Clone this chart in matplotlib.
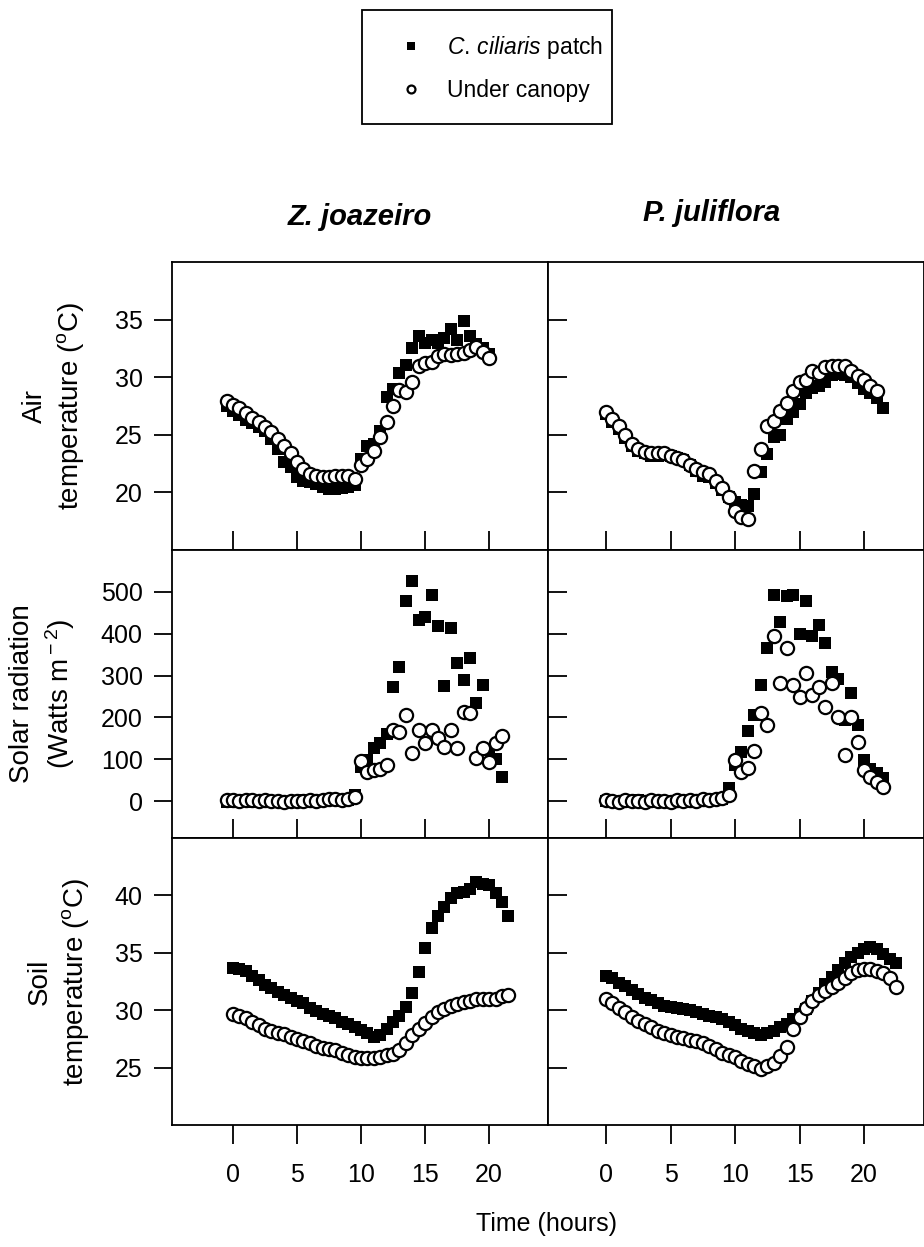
import numpy as np
import matplotlib
matplotlib.use('Agg')
import matplotlib.pyplot as plt
from matplotlib.patches import Rectangle

plt.rcParams['font.family'] = ['Liberation Sans', 'DejaVu Sans']
plt.rcParams['mathtext.fontset'] = 'custom'
plt.rcParams['mathtext.rm'] = 'Liberation Sans'
plt.rcParams['mathtext.it'] = 'Liberation Sans:italic'

# Sampling times (hours) for the two sites
hours_z = [-0.5, 0, 0.5, 1, 1.5, 2, 2.5, 3, 3.5, 4, 4.5, 5, 5.5, 6, 6.5, 7, 7.5, 8, 8.5, 9, 9.5,
           10, 10.5, 11, 11.5, 12, 12.5, 13, 13.5, 14, 14.5, 15, 15.5, 16, 16.5, 17, 17.5, 18,
           18.5, 19, 19.5, 20, 20.5, 21, 21.5]
hours_p = [0, 0.5, 1, 1.5, 2, 2.5, 3, 3.5, 4, 4.5, 5, 5.5, 6, 6.5, 7, 7.5, 8, 8.5, 9, 9.5, 10,
           10.5, 11, 11.5, 12, 12.5, 13, 13.5, 14, 14.5, 15, 15.5, 16, 16.5, 17, 17.5, 18, 18.5,
           19, 19.5, 20, 20.5, 21, 21.5, 22, 22.5]

# Z. joazeiro
air_z_patch = [27.5, 27.1, 26.7, 26.3, 26.0, 25.7, 25.3, 24.6, 23.8, 22.6, 22.2, 21.3, 21.0, 20.9,
               20.7, 20.5, 20.3, 20.3, 20.4, 20.5, 20.6, 22.9, 24.0, 24.2, 25.3, 28.3, 29.0, 30.4,
               31.1, 32.5, 33.6, 33.0, 33.2, 33.0, 33.4, 34.2, 33.2, 34.9, 33.6, 32.9, 32.5, 32.0,
               None, None, None]
air_z_canopy = [27.9, 27.6, 27.3, 26.9, 26.5, 26.1, 25.7, 25.2, 24.6, 24.0, 23.4, 22.6, 22.0, 21.6,
                21.4, 21.3, 21.3, 21.4, 21.4, 21.4, 21.2, 22.4, 22.9, 23.6, 24.8, 26.1, 27.5, 28.9,
                28.7, 29.6, 31.0, 31.2, 31.3, 31.8, 32.0, 31.9, 32.0, 32.1, 32.4, 32.6, 32.2, 31.7,
                None, None, None]
solar_z_patch = [-3, -2, 0, 2, -1, 0, 1, -2, 0, -3, -1, 0, 2, -1, 0, 1, 3, 2, 0, 3, 15, 82, 98,
                 126, 140, 160, 273, 321, 477, 525, 433, 441, 493, 418, 275, 414, 329, 289, 341,
                 235, 277, 122, 100, 58, None]
solar_z_canopy = [3, 2, 1, 3, 2, 0, 2, 1, 0, -1, 1, 0, 1, 2, 0, 3, 4, 5, 2, 6, 10, 95, 70, 74, 78,
                  86, 170, 166, 206, 114, 170, 140, 170, 152, 130, 170, 127, 214, 210, 102, 126,
                  94, 138, 155, None]
soil_z_patch = [None, 33.7, 33.6, 33.4, 33.0, 32.6, 32.2, 31.9, 31.6, 31.3, 31.1, 30.8, 30.6, 30.2,
                29.9, 29.7, 29.5, 29.3, 29.0, 28.8, 28.5, 28.3, 28.0, 27.7, 27.8, 28.4, 29.0, 29.5,
                30.3, 31.5, 33.3, 35.4, 37.2, 38.2, 39.0, 39.8, 40.2, 40.3, 40.6, 41.2, 41.0, 40.9,
                40.2, 39.4, 38.2]
soil_z_canopy = [None, 29.7, 29.5, 29.3, 29.0, 28.7, 28.4, 28.2, 28.0, 27.9, 27.7, 27.5, 27.3, 27.1,
                 26.9, 26.7, 26.6, 26.5, 26.3, 26.1, 25.9, 25.8, 25.8, 25.8, 25.9, 26.1, 26.2, 26.5,
                 27.1, 27.8, 28.4, 28.9, 29.4, 29.8, 30.1, 30.4, 30.5, 30.7, 30.8, 31.0, 31.0, 31.0,
                 31.0, 31.2, 31.3]

# P. juliflora
air_p_patch = [26.8, 26.1, 25.5, 24.7, 24.0, 23.6, 23.4, 23.2, 23.2, 23.3, 23.2, 23.0, 22.8, 22.4,
               21.9, 21.4, 21.3, 20.8, 20.2, 19.6, 19.2, 18.9, 18.8, 19.9, 21.8, 23.3, 24.8, 25.0,
               26.4, 27.0, 27.7, 28.6, 29.1, 29.2, 29.6, 30.2, 30.3, 30.2, 30.0, 29.5, 29.0, 28.6,
               28.2, 27.3, None, None]
air_p_canopy = [27.0, 26.4, 25.8, 25.0, 24.2, 23.8, 23.5, 23.4, 23.4, 23.4, 23.2, 23.0, 22.8, 22.4,
                22.0, 21.8, 21.6, 21.0, 20.4, 19.6, 18.4, 17.9, 17.7, 21.9, 23.8, 25.8, 26.2, 27.1,
                27.8, 28.8, 29.6, 29.8, 30.5, 30.4, 30.9, 31.0, 31.0, 31.0, 30.5, 30.1, 29.8, 29.2,
                28.8, None, None, None]
solar_p_patch = [0, -2, 1, 0, -3, 2, 0, -1, 1, 0, -2, 0, 1, -1, 2, 0, 3, 4, 6, 31, 86, 118, 168,
                 206, 277, 365, 493, 427, 490, 493, 399, 479, 395, 421, 377, 309, 293, 194, 258,
                 182, 98, 78, 68, 55, None, None]
solar_p_canopy = [2, 0, -1, 3, 1, 0, -2, 2, 0, 1, -1, 3, 0, 2, 1, 4, 2, 5, 8, 15, 98, 70, 79, 120,
                  210, 182, 395, 283, 367, 278, 250, 306, 254, 273, 224, 282, 202, 111, 202, 142,
                  75, 58, 46, 34, None, None]
soil_p_patch = [33.0, 32.8, 32.4, 32.1, 31.8, 31.4, 31.1, 30.9, 30.6, 30.4, 30.3, 30.2, 30.1, 30.0,
                29.8, 29.7, 29.5, 29.4, 29.2, 29.0, 28.7, 28.4, 28.2, 28.0, 27.8, 28.0, 28.2, 28.5,
                28.8, 29.2, 29.7, 30.1, 30.8, 31.5, 32.3, 32.9, 33.5, 34.1, 34.6, 35.0, 35.3, 35.5,
                35.3, 34.9, 34.5, 34.1]
soil_p_canopy = [31.0, 30.6, 30.2, 29.8, 29.4, 29.1, 28.8, 28.5, 28.2, 28.0, 27.8, 27.7, 27.6, 27.4,
                 27.3, 27.1, 26.9, 26.6, 26.3, 26.1, 25.9, 25.6, 25.3, 25.1, 24.9, 25.1, 25.4, 26.0,
                 26.8, 28.4, 29.4, 30.2, 30.8, 31.3, 31.7, 32.0, 32.4, 32.8, 33.2, 33.5, 33.6, 33.6,
                 33.4, 33.2, 32.8, 32.0]

sites = ['Z. joazeiro', 'P. juliflora']
hours = [hours_z, hours_p]
patch = [[air_z_patch, solar_z_patch, soil_z_patch], [air_p_patch, solar_p_patch, soil_p_patch]]
canopy = [[air_z_canopy, solar_z_canopy, soil_z_canopy], [air_p_canopy, solar_p_canopy, soil_p_canopy]]
ylabels = ['Air\ntemperature ($^{\\rm o}$C)', 'Solar radiation\n(Watts m$^{\\rm -2}$)',
           'Soil\ntemperature ($^{\\rm o}$C)']
yticks = [[20, 25, 30, 35], [0, 100, 200, 300, 400, 500], [25, 30, 35, 40]]
ylims = [(15, 40), (-88, 600), (20, 45)]
xticks = [0, 5, 10, 15, 20]

# Layout in pixels of the 924x1247 figure
W, H = 924., 1247.
col_x = [172, 548, 924]
row_y = [262, 550, 838, 1125]
xlims = [(-4.77, 24.6), (-4.5, 24.65)]
ylab_x = [54, 43, 59]
lw = 1.3

fig = plt.figure(figsize=(9.24, 12.47), dpi=100)
for c in range(2):
    for r in range(3):
        ax = fig.add_axes([col_x[c]/W, 1 - row_y[r + 1]/H,
                           (col_x[c + 1] - col_x[c])/W, (row_y[r + 1] - row_y[r])/H])
        t = np.array(hours[c], dtype=float)
        hp, = ax.plot(t, np.array(patch[c][r], dtype=float), 's', color='black', ms=9, mew=0)
        hc, = ax.plot(t, np.array(canopy[c][r], dtype=float), 'o', mfc='white', mec='black',
                      ms=9.5, mew=1.6)
        ax.set_xlim(xlims[c])
        ax.set_ylim(ylims[r])
        ax.set_xticks(xticks)
        ax.set_yticks(yticks[r])
        for s in ax.spines.values():
            s.set_linewidth(lw)
        if c == 0:
            ax.tick_params(axis='y', direction='out', length=13, width=lw, labelsize=18, pad=8)
            fig.text(ylab_x[r]/W, 1 - (row_y[r] + row_y[r + 1])/2/H, ylabels[r], rotation=90,
                     ha='center', va='center', multialignment='center', fontsize=20,
                     linespacing=1.3)
        else:
            ax.tick_params(axis='y', direction='in', length=14, width=lw, labelleft=False)
        if r < 2:
            ax.tick_params(axis='x', direction='in', length=14, width=lw, labelbottom=False)
        else:
            ax.tick_params(axis='x', direction='out', length=14, width=lw, labelsize=18, pad=13)

# Column titles
fig.text(360/W, 1 - 217/H, sites[0], ha='center', va='center', fontsize=21,
         fontweight='bold', fontstyle='italic')
fig.text(712/W, 1 - 213/H, sites[1], ha='center', va='center', fontsize=21,
         fontweight='bold', fontstyle='italic')
fig.text(547/W, 1 - 1224/H, 'Time (hours)', ha='center', va='center', fontsize=18)

# Legend with a plain box drawn around it
leg = fig.legend([hp, hc], ['$\\it{C.\\,ciliaris}$ patch', 'Under canopy'],
                 loc='center left', bbox_to_anchor=(390/W, 1 - 68/H), frameon=False,
                 fontsize=16.5, markerscale=0.6, handlelength=1.8, handletextpad=0.7,
                 borderpad=0, borderaxespad=0, labelspacing=0.75)
fig.add_artist(Rectangle((362/W, 1 - 124/H), 250/W, 114/H, transform=fig.transFigure,
                         fill=False, lw=lw, ec='black'))

plt.savefig('out.png', dpi=100)
